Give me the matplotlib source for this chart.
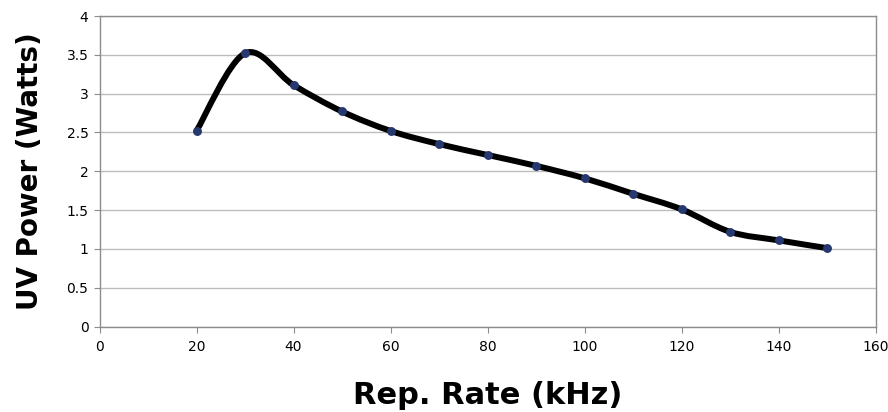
import matplotlib
matplotlib.use("Agg")
import matplotlib.pyplot as plt
import numpy as np
from matplotlib.path import Path
from matplotlib.patches import PathPatch

# data
rep_rate = [20, 30, 40, 50, 60, 70, 80, 90, 100, 110, 120, 130, 140, 150]
uv_power = [2.52, 3.52, 3.11, 2.77, 2.52, 2.35, 2.21, 2.07, 1.91, 1.71, 1.51, 1.22, 1.11, 1.01]
x_ticks = [0, 20, 40, 60, 80, 100, 120, 140, 160]
y_ticks = [0, 0.5, 1, 1.5, 2, 2.5, 3, 3.5, 4]

plt.rcParams['font.family'] = ['DejaVu Sans']


def smooth_path(xs, ys):
    # Excel-like smoothed line: cubic Bezier with Catmull-Rom control points
    pts = np.column_stack([xs, ys]).astype(float)
    n = len(pts)
    verts = [pts[0]]
    codes = [Path.MOVETO]
    for i in range(n - 1):
        p0 = pts[i - 1] if i > 0 else pts[i]
        p1 = pts[i]
        p2 = pts[i + 1]
        p3 = pts[i + 2] if i + 2 < n else pts[i + 1]
        c1 = p1 + (p2 - p0) / 6.0
        c2 = p2 - (p3 - p1) / 6.0
        verts += [c1, c2, p2]
        codes += [Path.CURVE4] * 3
    return Path(verts, codes)


fig = plt.figure(figsize=(8.88, 4.12), dpi=100)
ax = fig.add_axes([99.5 / 888, 1 - 326.5 / 412, (875.5 - 99.5) / 888, (326.5 - 16) / 412])

ax.add_patch(PathPatch(smooth_path(rep_rate, uv_power), facecolor="none",
                       edgecolor="black", lw=4.3, capstyle="round", joinstyle="round", zorder=3))
ax.plot(rep_rate, uv_power, "o", color="#27386f", markersize=5.4, zorder=4)

ax.set_xlim(0, 160)
ax.set_ylim(0, 4)
ax.set_xticks(x_ticks)
ax.set_yticks(y_ticks)
ax.set_yticklabels(["0", "0.5", "1", "1.5", "2", "2.5", "3", "3.5", "4"])
ax.grid(axis="y", color="#bdbdbd", lw=1)
ax.set_axisbelow(True)
for s in ax.spines.values():
    s.set_color("#8c8c8c")
    s.set_linewidth(1)
ax.tick_params(direction="out", length=4, color="#8c8c8c", labelsize=10, pad=4)
ax.tick_params(axis="x", pad=6)

ax.set_xlabel("Rep. Rate (kHz)", fontsize=22, fontweight="bold", labelpad=19)
ax.set_ylabel("UV Power (Watts)", fontsize=20, fontweight="bold", labelpad=16)

fig.savefig("out.png", dpi=100)
